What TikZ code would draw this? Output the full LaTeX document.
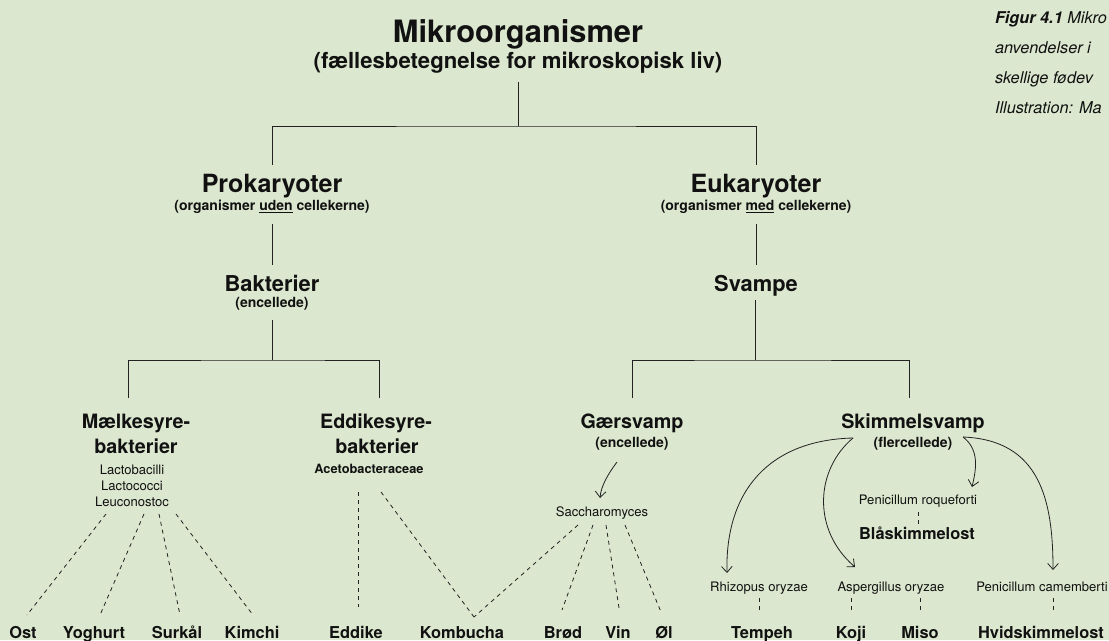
\documentclass[tikz,border=0pt]{standalone}
\usepackage{fontspec}
\setmainfont{TeX Gyre Heros}
\usetikzlibrary{arrows.meta}
\definecolor{bg}{HTML}{DBE7CE}
\definecolor{ink}{HTML}{111111}
\definecolor{ln}{HTML}{222222}
\newcommand\fsTitle{\fontsize{23.1}{26}\selectfont\bfseries}
\newcommand\fsSubT{\fontsize{16.6}{19}\selectfont\bfseries}
\newcommand\fsBig{\fontsize{18.8}{21}\selectfont\bfseries}
\newcommand\fsLvl{\fontsize{16.4}{19}\selectfont\bfseries}
\newcommand\fsMid{\fontsize{14.8}{18}\selectfont\bfseries}
\newcommand\fsNote{\fontsize{10.5}{12}\selectfont\bfseries}
\newcommand\fsAce{\fontsize{9.6}{11}\selectfont\bfseries}
\newcommand\fsSp{\fontsize{9.8}{11}\selectfont}
\newcommand\fsFood{\fontsize{12.3}{15}\selectfont\bfseries}
\newcommand\fsCap{\fontsize{12.2}{15}\selectfont\itshape}
\begin{document}
\begin{tikzpicture}[x=0.75pt,y=-0.75pt,
  txt/.style={inner sep=0pt,outer sep=0pt,anchor=base,text=ink},
  tree/.style={draw=ln,line width=0.75pt},
  dsh/.style={draw=ln,line width=0.6pt,dash pattern=on 3pt off 3pt},
  arr/.style={draw=ln,line width=0.6pt,-{Straight Barb[length=4.5pt,width=8pt]}}]
\fill[bg] (0,0) rectangle (1109,640);
\useasboundingbox (0,0) rectangle (1109,640);
\clip (0,0) rectangle (1109,640);

% caption
\node[txt,anchor=base west] (cap1) at (995,23) {\fsCap\textbf{Figur 4.1} Mikro};
\node[txt,anchor=base west] (cap2) at (995,53) {\fsCap anvendelser i};
\node[txt,anchor=base west] (cap3) at (995,83) {\fsCap skellige fødev};
\node[txt,anchor=base west] (cap4) at (995,113) {\fsCap Illustration: Ma};

% headings
\node[txt] (root) at (518,42) {\fsTitle Mikroorganismer};
\node[txt] (rootsub) at (518,68) {\fsSubT (fællesbetegnelse for mikroskopisk liv)};
\node[txt] (pro) at (272,192) {\fsBig Prokaryoter};
\node[txt] (prosub) at (272,210) {\fsNote (organismer \underline{uden} cellekerne)};
\node[txt] (euk) at (756,192) {\fsBig Eukaryoter};
\node[txt] (euksub) at (756,210) {\fsNote (organismer \underline{med} cellekerne)};
\node[txt] (bak) at (272,291) {\fsLvl Bakterier};
\node[txt] (baksub) at (272,307) {\fsNote (encellede)};
\node[txt] (svp) at (756,291) {\fsLvl Svampe};

\node[txt] (mal1) at (136,428) {\fsMid Mælkesyre-};
\node[txt] (mal2) at (136,453) {\fsMid bakterier};
\node[txt] (lb1) at (132,474) {\fsSp Lactobacilli};
\node[txt] (lb2) at (132,490) {\fsSp Lactococci};
\node[txt] (lb3) at (132,506) {\fsSp Leuconostoc};

\node[txt] (edd1) at (376,428) {\fsMid Eddikesyre-};
\node[txt] (edd2) at (377,453) {\fsMid bakterier};
\node[txt] (ace) at (369,473) {\fsAce Acetobacteraceae};

\node[txt] (gar) at (632,428) {\fsMid Gærsvamp};
\node[txt] (garsub) at (632,447) {\fsNote (encellede)};
\node[txt] (sac) at (602,516) {\fsSp Saccharomyces};

\node[txt] (skm) at (913,428) {\fsMid Skimmelsvamp};
\node[txt] (skmsub) at (913,447) {\fsNote (flercellede)};
\node[txt] (proq) at (918,504) {\fsSp Penicillum roqueforti};
\node[txt] (blaa) at (917,539) {\fsFood Blåskimmelost};
\node[txt] (rhi) at (759,591) {\fsSp Rhizopus oryzae};
\node[txt] (asp) at (891,591) {\fsSp Aspergillus oryzae};
\node[txt] (pcam) at (1042,591) {\fsSp Penicillum camemberti};

% foods
\node[txt] (ost) at (23,638) {\fsFood Ost};
\node[txt] (yog) at (94,638) {\fsFood Yoghurt};
\node[txt] (sur) at (177,638) {\fsFood Surkål};
\node[txt] (kim) at (252,638) {\fsFood Kimchi};
\node[txt] (eddike) at (356,638) {\fsFood Eddike};
\node[txt] (kom) at (462,638) {\fsFood Kombucha};
\node[txt] (brod) at (563,638) {\fsFood Brød};
\node[txt] (vin) at (618,638) {\fsFood Vin};
\node[txt] (ol) at (664,638) {\fsFood Øl};
\node[txt] (tem) at (762,638) {\fsFood Tempeh};
\node[txt] (koji) at (851,638) {\fsFood Koji};
\node[txt] (miso) at (920,638) {\fsFood Miso};
\node[txt] (hvid) at (1041,638) {\fsFood Hvidskimmelost};

% tree coordinates
\coordinate (r0) at (518,82);
\coordinate (j0) at (518,126);
\coordinate (pt) at (272,165);
\coordinate (et) at (756,165);
\coordinate (pb) at (272,224);
\coordinate (bt) at (272,265);
\coordinate (eb) at (756,224);
\coordinate (st) at (756,265);
\coordinate (bb) at (272,320);
\coordinate (jb) at (272,360);
\coordinate (mt) at (128,398);
\coordinate (at) at (379,398);
\coordinate (sb) at (755,300);
\coordinate (js) at (755,360);
\coordinate (gt) at (632,398);
\coordinate (kt) at (909,398);

\draw[tree] (r0) -- (j0);
\draw[tree] (pt) |- (j0) -| (et);
\draw[tree] (pb) -- (bt);
\draw[tree] (eb) -- (st);
\draw[tree] (bb) -- (jb);
\draw[tree] (mt) |- (jb) -| (at);
\draw[tree] (sb) -- (js);
\draw[tree] (gt) |- (js) -| (kt);

% dashed: lactic
\coordinate (l1) at (106,514); \coordinate (l2) at (144,514);
\coordinate (l3) at (159,514); \coordinate (l4) at (176,514);
\coordinate (f1) at (27,615); \coordinate (f2) at (100,615);
\coordinate (f3) at (180,615); \coordinate (f4) at (253,615);
\draw[dsh] (l1) -- (f1);
\draw[dsh] (l2) -- (f2);
\draw[dsh] (l3) -- (f3);
\draw[dsh] (l4) -- (f4);
% dashed: acetic
\coordinate (a1) at (358,492); \coordinate (a2) at (381,492);
\coordinate (fe) at (358,607); \coordinate (fk) at (474,617);
\draw[dsh] (a1) -- (fe);
\draw[dsh] (a2) -- (fk);
% dashed: saccharomyces
\coordinate (s1) at (578,525); \coordinate (s2) at (593,525);
\coordinate (s3) at (606,525); \coordinate (s4) at (625,525);
\coordinate (fb) at (562,610); \coordinate (fv) at (619,608);
\coordinate (fo) at (661,612);
\draw[dsh] (s1) -- (fk);
\draw[dsh] (s2) -- (fb);
\draw[dsh] (s3) -- (fv);
\draw[dsh] (s4) -- (fo);
% short dashes
\coordinate (q1) at (918,512); \coordinate (q2) at (918,525);
\draw[dsh] (q1) -- (q2);
\coordinate (t1) at (759,598); \coordinate (t2) at (759,612);
\coordinate (k1) at (851,598); \coordinate (k2) at (851,612);
\coordinate (m1) at (920,598); \coordinate (m2) at (920,612);
\coordinate (h1) at (1053,598); \coordinate (h2) at (1053,612);
\draw[dsh] (t1) -- (t2);
\draw[dsh] (k1) -- (k2);
\draw[dsh] (m1) -- (m2);
\draw[dsh] (h1) -- (h2);

% arrows
\coordinate (ga) at (617,462); \coordinate (gb) at (600,498);
\draw[arr] (ga) .. controls (608,474) and (601,486) .. (gb);
\coordinate (sk1) at (853,438); \coordinate (sk2) at (963,437);
\coordinate (rz) at (727,573); \coordinate (ap) at (855,567);
\coordinate (rq) at (972,487); \coordinate (cb) at (1053,570);
\draw[arr] (sk1) .. controls (770,440) and (725,490) .. (rz);
\draw[arr] (sk1) .. controls (815,470) and (812,530) .. (ap);
\draw[arr] (sk2) .. controls (980,450) and (976,470) .. (rq);
\draw[arr] (sk2) .. controls (1040,440) and (1053,500) .. (cb);
\end{tikzpicture}
\end{document}
